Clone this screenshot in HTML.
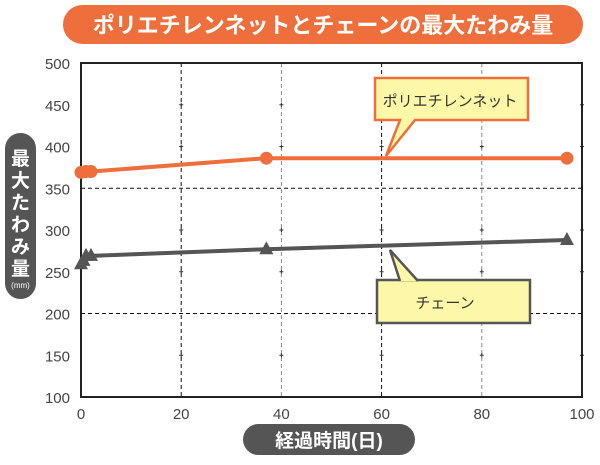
<!DOCTYPE html>
<html><head><meta charset="utf-8"><style>
body{margin:0;background:#fff;width:600px;height:460px;overflow:hidden;font-family:"Liberation Sans","Noto Sans CJK JP",sans-serif}
</style></head><body>
<svg width="600" height="460" viewBox="0 0 600 460" xmlns="http://www.w3.org/2000/svg" font-family="Liberation Sans, Noto Sans CJK JP, sans-serif">
<g>
<rect x="63" y="5" width="520" height="39" rx="19.5" fill="#ee6e3c"/>
<text x="323" y="33" text-anchor="middle" font-size="22" font-weight="bold" fill="#fff">ポリエチレンネットとチェーンの最大たわみ量</text>
</g>
<g>
<rect x="5" y="133" width="31" height="166" rx="15.5" fill="#555"/>
<text x="20.5" y="165" text-anchor="middle" font-size="19" font-weight="bold" fill="#fff">最</text>
<text x="20.5" y="187" text-anchor="middle" font-size="19" font-weight="bold" fill="#fff">大</text>
<text x="20.5" y="209" text-anchor="middle" font-size="19" font-weight="bold" fill="#fff">た</text>
<text x="20.5" y="231" text-anchor="middle" font-size="19" font-weight="bold" fill="#fff">わ</text>
<text x="20.5" y="253" text-anchor="middle" font-size="19" font-weight="bold" fill="#fff">み</text>
<text x="20.5" y="275" text-anchor="middle" font-size="19" font-weight="bold" fill="#fff">量</text>
<text x="20.5" y="288" text-anchor="middle" font-size="8" fill="#fff">(mm)</text>
</g>
<g>
<rect x="243" y="424" width="172" height="31" rx="15.5" fill="#555"/>
<text x="329" y="447" text-anchor="middle" font-size="19" font-weight="bold" fill="#fff">経過時間(日)</text>
</g>
<g id="grid"></g>
<g id="axes"></g>
<g id="series"></g>
<g>
<path d="M375 78 H528 V120 H415 L386 156 L400 120 H375 Z" fill="#fdf7a8" stroke="#ee6e3c" stroke-width="2.5"/>
<text x="450" y="106" text-anchor="middle" font-size="15" fill="#333">ポリエチレンネット</text>
</g>
<g>
<path d="M377 280 H530 V323 H377 Z" fill="#fdf7a8" stroke="#555" stroke-width="2.5"/>
<path d="M400 281 L390 250 L418 281" fill="#fdf7a8" stroke="#555" stroke-width="2.5"/>
<text x="445" y="308" text-anchor="middle" font-size="15" fill="#333">チェーン</text>
</g>
</svg>
<script>
const xTicks=[0,20,40,60,80,100];
const yTicks=[100,150,200,250,300,350,400,450,500];
const polyX=[0,1,2,37,97];
const polyY=[369,370,370,386,386];
const chainX=[0,0.5,1,2,37,97];
const chainY=[259,263,269,269,277,288];
const X0=81,X1=582,Y0=397,Y1=63;
const sx=v=>X0+(v-0)/(100-0)*(X1-X0);
const sy=v=>Y0-(v-100)/(500-100)*(Y0-Y1);
const NS='http://www.w3.org/2000/svg';
function mk(tag,attrs,parent){const e=document.createElementNS(NS,tag);for(const k in attrs)e.setAttribute(k,attrs[k]);parent.appendChild(e);return e;}
const grid=document.getElementById('grid'),axes=document.getElementById('axes'),ser=document.getElementById('series');
xTicks.forEach((t,i)=>{
  if(i>0&&i<xTicks.length-1){const l=mk('line',{x1:sx(t),x2:sx(t),y1:Y1,y2:Y0,stroke:i%2?'#111':'#888','stroke-width':1,'stroke-dasharray':'4,3'},grid);
  
  }
  const tx=mk('text',{x:sx(t),y:419,'text-anchor':'middle','font-size':15,fill:'#444'},axes);tx.textContent=t;
  
  
});
yTicks.forEach(t=>{
  if(t===200||t===350){const l=mk('line',{x1:X0,x2:X1,y1:sy(t),y2:sy(t),stroke:'#111','stroke-width':1,'stroke-dasharray':'4,3'},grid);
  
  }
  else if(t>100&&t<500){xTicks.forEach(x=>{if(x>0){mk('line',{x1:sx(x)-2,x2:sx(x)+2,y1:sy(t),y2:sy(t),stroke:'#333','stroke-width':1},grid);mk('line',{x1:sx(x),x2:sx(x),y1:sy(t)-2,y2:sy(t)+2,stroke:'#333','stroke-width':1},grid);}});}
  const ty=mk('text',{x:70,y:sy(t)+6,'text-anchor':'end','font-size':15,fill:'#444'},axes);ty.textContent=t;
  
  
});
const frame=mk('rect',{x:X0,y:Y1,width:X1-X0,height:Y0-Y1,fill:'none',stroke:'#222','stroke-width':2},axes);


const pl=mk('polyline',{points:polyX.map((x,i)=>sx(x)+','+sy(polyY[i])).join(' '),fill:'none',stroke:'#ee6e3c','stroke-width':4},ser);


polyX.forEach((x,i)=>{const c=mk('circle',{cx:sx(x),cy:sy(polyY[i]),r:6.5,fill:'#ee6e3c'},ser);

});
const cl=mk('polyline',{points:chainX.map((x,i)=>sx(x)+','+sy(chainY[i])).join(' '),fill:'none',stroke:'#555','stroke-width':4},ser);


chainX.forEach((x,i)=>{const cx=sx(x),cy=sy(chainY[i]);const p=mk('polygon',{points:`${cx},${cy-8} ${cx-7},${cy+5} ${cx+7},${cy+5}`,fill:'#555'},ser);

});
</script>
</body></html>
